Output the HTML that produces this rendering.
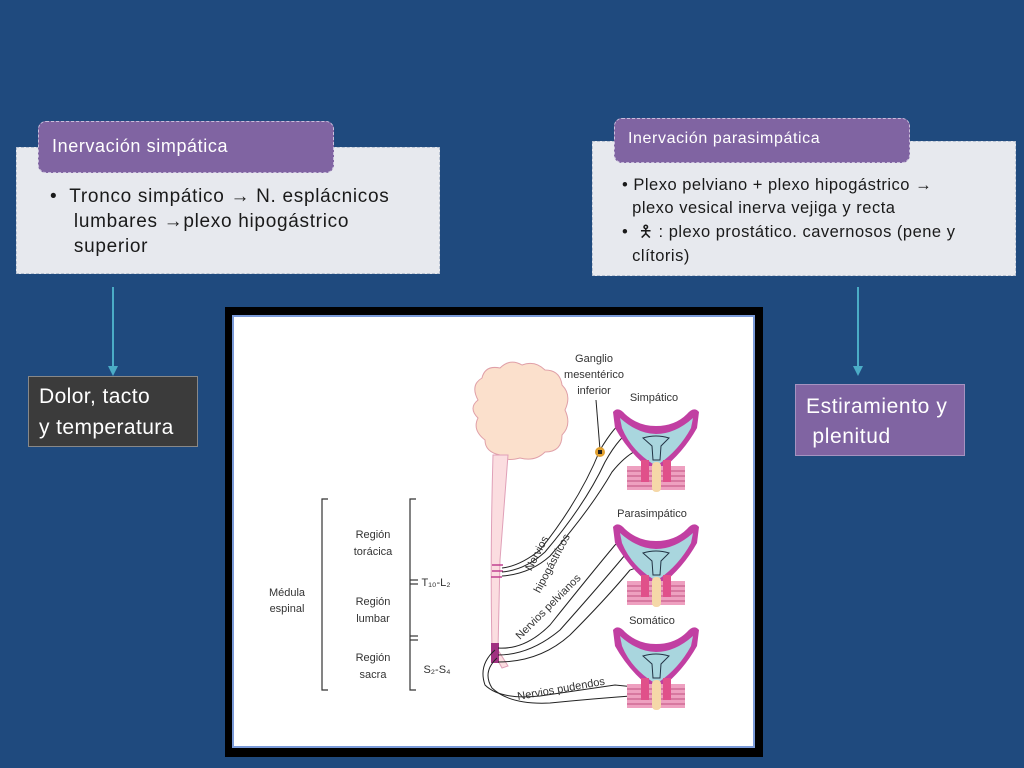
<!DOCTYPE html>
<html><head><meta charset="utf-8"><style>
body{margin:0;width:1024px;height:768px;background:#1f4a7e;position:relative;overflow:hidden;font-family:"Liberation Sans","DejaVu Sans",sans-serif}
.box{position:absolute;background:#e7e9ee;border:1px dashed #b8c2d2;box-sizing:border-box}
.hdr{position:absolute;background:#8064a2;border:1px dashed #c9bedb;border-radius:8px;color:#fff;box-sizing:border-box;white-space:nowrap}
.t{position:absolute;color:#1a1a1a;white-space:nowrap}
</style></head><body>
<div class="box" style="left:16px;top:147px;width:424px;height:127px"></div>
<div class="hdr" style="left:38px;top:121px;width:296px;height:52px;font-size:18px;letter-spacing:0.6px;padding:14px 0 0 13px">Inervación simpática</div>
<div class="t" style="left:50px;top:184px;font-size:19px;letter-spacing:0.7px;line-height:25px">•&nbsp;&nbsp;Tronco simpático → N. esplácnicos<br>&nbsp;&nbsp;&nbsp;&nbsp;lumbares →plexo hipogástrico<br>&nbsp;&nbsp;&nbsp;&nbsp;superior</div>

<div class="box" style="left:592px;top:141px;width:424px;height:135px"></div>
<div class="hdr" style="left:614px;top:118px;width:296px;height:45px;font-size:16px;letter-spacing:0.6px;padding:11px 0 0 13px">Inervación parasimpática</div>
<div class="t" style="left:622px;top:174px;font-size:16.5px;letter-spacing:0.5px;line-height:23px">•&nbsp;Plexo pelviano + plexo hipogástrico →<br>&nbsp;&nbsp;plexo vesical inerva vejiga y recta<br><span style="line-height:25px">•&nbsp;&nbsp;🯅 : plexo prostático. cavernosos (pene y</span><br>&nbsp;&nbsp;clítoris)</div>

<svg style="position:absolute;left:0;top:0" width="1024" height="768">
<line x1="113" y1="287" x2="113" y2="370" stroke="#4bacc6" stroke-width="2"/>
<path d="M108,366 L113,376 L118,366 Z" fill="#4bacc6"/>
<line x1="858" y1="287" x2="858" y2="370" stroke="#4bacc6" stroke-width="2"/>
<path d="M853,366 L858,376 L863,366 Z" fill="#4bacc6"/>
</svg>

<div style="position:absolute;left:28px;top:376px;width:170px;height:71px;background:#3b3b3b;border:1px solid #888;box-sizing:border-box;color:#fff;font-size:21px;letter-spacing:0.4px;line-height:31px;padding:4px 0 0 10px;white-space:nowrap">Dolor, tacto<br>y temperatura</div>
<div style="position:absolute;left:795px;top:384px;width:170px;height:72px;background:#8064a2;border:1px solid #a593c0;box-sizing:border-box;color:#fff;font-size:21px;letter-spacing:0.6px;line-height:30px;padding:7px 0 0 10px;white-space:nowrap">Estiramiento y<br>&nbsp;plenitud</div>

<div style="position:absolute;left:225px;top:307px;width:538px;height:450px;background:#000"></div>
<div style="position:absolute;left:232px;top:315px;width:523px;height:433px;background:#fff;border:2px solid #7a9ad8;box-sizing:border-box"></div>

<svg style="position:absolute;left:0;top:0" width="1024" height="768" font-family="Liberation Sans,sans-serif" fill="#333">
<defs>
<g id="bl">
<path d="M0,4 Q5,-2 12,6 Q25,18 43,18 Q62,18 74,6 Q81,-2 86,4 L84,20 Q70,45 48,62 L38,62 Q16,45 2,20 Z" fill="#c13fa2"/>
<path d="M7,10 Q25,26 43,26 Q62,26 80,10 L78,20 Q66,42 46,56 L40,56 Q18,42 9,20 Z" fill="#a9d6de"/>
<path d="M30,30 Q43,26 56,30 L48,38 L47,52 L40,52 L39,38 Z" fill="none" stroke="#234" stroke-width="1"/>
<rect x="14" y="58" width="58" height="24" fill="#eea0c0"/>
<g stroke="#c05080" stroke-width="1"><line x1="14" y1="63" x2="72" y2="63"/><line x1="14" y1="68" x2="72" y2="68"/><line x1="14" y1="73" x2="72" y2="73"/><line x1="14" y1="78" x2="72" y2="78"/></g>
<rect x="28" y="52" width="8" height="22" fill="#e0508a"/><rect x="50" y="52" width="8" height="22" fill="#e0508a"/>
<rect x="39" y="54" width="9" height="30" rx="4" fill="#f5d8a8"/>
</g>
</defs>
<path d="M478,400 Q470,385 482,378 Q485,365 500,368 Q510,358 522,365 Q535,360 545,370 Q560,370 562,385 Q572,395 565,410 Q572,425 562,435 Q562,452 545,452 Q535,462 520,458 Q505,462 500,455 Q485,452 485,440 Q472,430 478,418 Q468,408 478,400 Z" fill="#fbe0cc" stroke="#e0a0a8" stroke-width="1"/>
<path d="M493,455 L508,455 Q503,520 500,560 L498,650 L508,666 L502,668 L492,650 Q490,560 493,455 Z" fill="#fbdde0" stroke="#e0a0b8" stroke-width="1"/>
<g stroke="#c04090" stroke-width="1.5"><line x1="492" y1="565" x2="503" y2="565"/><line x1="492" y1="571" x2="503" y2="571"/><line x1="491" y1="577" x2="502" y2="577"/></g>
<rect x="491" y="643" width="8" height="20" fill="#a03080"/>
<g fill="none" stroke="#222" stroke-width="1">
<path d="M502,568 Q520,566 540,550 Q580,500 600,450 Q615,425 625,420"/>
<path d="M502,572 Q525,570 545,552 Q585,505 605,462 Q620,435 635,428"/>
<path d="M502,576 Q530,574 550,556 Q590,510 612,472 Q630,450 645,448"/>
<path d="M498,648 Q525,650 550,625 Q590,575 615,545 Q620,540 630,538"/>
<path d="M498,655 Q530,655 560,630 Q600,585 625,555 L640,550"/>
<path d="M498,662 Q540,662 570,635 Q605,600 630,570 L645,565"/>
<path d="M495,650 Q478,665 485,685 Q500,700 540,696 Q580,690 615,685 L645,688"/>
<path d="M497,658 Q482,672 492,688 Q510,705 550,703 Q600,698 645,695"/>
<line x1="596" y1="400" x2="600" y2="450"/>
</g>
<circle cx="600" cy="452" r="5" fill="#e0a030"/><rect x="598" y="450" width="4" height="4" fill="#222"/>
<g transform="translate(613,408)"><use href="#bl"/></g>
<g transform="translate(613,523)"><use href="#bl"/></g>
<g transform="translate(613,626)"><use href="#bl"/></g>
<g font-size="11" text-anchor="middle">
<text x="594" y="362">Ganglio</text><text x="594" y="378">mesentérico</text><text x="594" y="394">inferior</text>
<text x="654" y="401">Simpático</text><text x="652" y="517">Parasimpático</text><text x="652" y="624">Somático</text>
<text x="287" y="596">Médula</text><text x="287" y="612">espinal</text>
<text x="373" y="538">Región</text><text x="373" y="555">torácica</text>
<text x="373" y="605">Región</text><text x="373" y="622">lumbar</text>
<text x="373" y="661">Región</text><text x="373" y="678">sacra</text>
<text x="436" y="586">T₁₀-L₂</text><text x="437" y="673">S₂-S₄</text>
<text transform="translate(540,555) rotate(-62)" x="0" y="0">Nervios</text>
<text transform="translate(555,565) rotate(-62)" x="0" y="0">hipogástricos</text>
<text transform="translate(520,640) rotate(-45)" x="0" y="0" text-anchor="start">Nervios pelvianos</text>
<text transform="translate(518,700) rotate(-10)" x="0" y="0" text-anchor="start">Nervios pudendos</text>
</g>
<g fill="none" stroke="#333" stroke-width="1.2">
<path d="M328,499 L322,499 L322,690 L328,690"/>
<path d="M416,499 L410,499 L410,690 L416,690"/>
<line x1="410" y1="580" x2="418" y2="580"/><line x1="410" y1="584" x2="418" y2="584"/>
<line x1="410" y1="636" x2="418" y2="636"/><line x1="410" y1="640" x2="418" y2="640"/>
</g>
</svg>
</body></html>
